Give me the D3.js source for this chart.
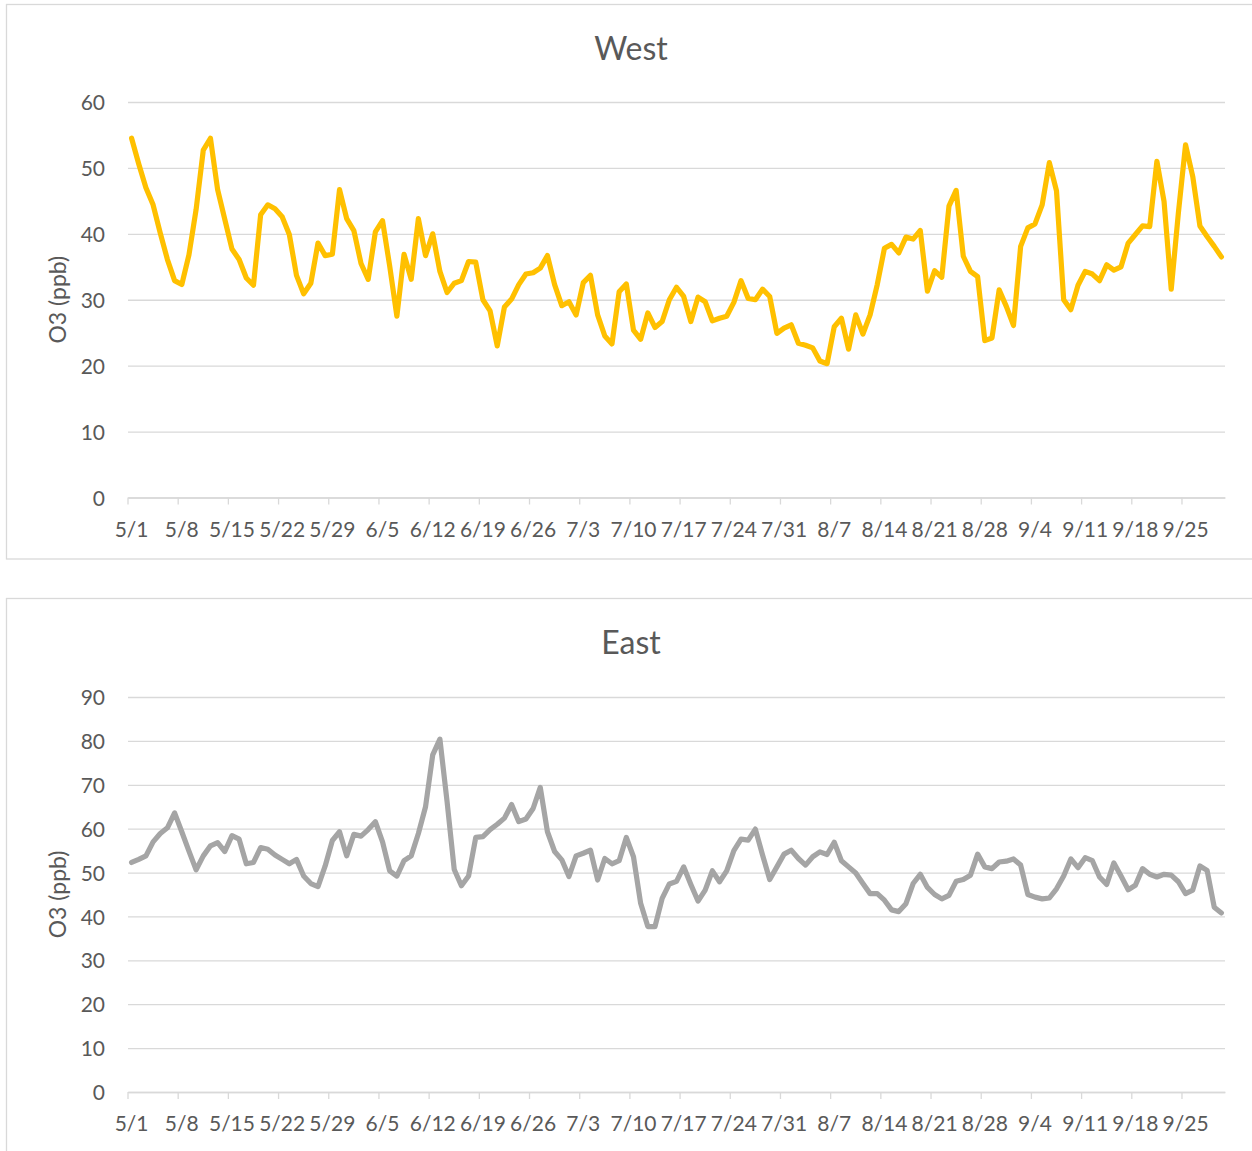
<!DOCTYPE html>
<html>
<head>
<meta charset="utf-8">
<script src="https://cdn.jsdelivr.net/npm/d3@7"></script>
<style>
  html, body { margin: 0; padding: 0; background: #ffffff; }
  svg { display: block; }
  text { font-family: Lato, "Open Sans", sans-serif; fill: #595959; }
</style>
</head>
<body>
<svg id="chart" width="1252" height="1151"></svg>
<script>
// ---------- DATA ----------
const dates = [
  "5/1","5/2","5/3","5/4","5/5","5/6","5/7","5/8","5/9","5/10","5/11","5/12","5/13","5/14","5/15","5/16",
  "5/17","5/18","5/19","5/20","5/21","5/22","5/23","5/24","5/25","5/26","5/27","5/28","5/29","5/30","5/31",
  "6/1","6/2","6/3","6/4","6/5","6/6","6/7","6/8","6/9","6/10","6/11","6/12","6/13","6/14","6/15",
  "6/16","6/17","6/18","6/19","6/20","6/21","6/22","6/23","6/24","6/25","6/26","6/27","6/28","6/29","6/30",
  "7/1","7/2","7/3","7/4","7/5","7/6","7/7","7/8","7/9","7/10","7/11","7/12","7/13","7/14","7/15","7/16",
  "7/17","7/18","7/19","7/20","7/21","7/22","7/23","7/24","7/25","7/26","7/27","7/28","7/29","7/30","7/31",
  "8/1","8/2","8/3","8/4","8/5","8/6","8/7","8/8","8/9","8/10","8/11","8/12","8/13","8/14","8/15","8/16",
  "8/17","8/18","8/19","8/20","8/21","8/22","8/23","8/24","8/25","8/26","8/27","8/28","8/29","8/30","8/31",
  "9/1","9/2","9/3","9/4","9/5","9/6","9/7","9/8","9/9","9/10","9/11","9/12","9/13","9/14","9/15",
  "9/16","9/17","9/18","9/19","9/20","9/21","9/22","9/23","9/24","9/25","9/26","9/27","9/28","9/29","9/30"
];

const tickLabels = ["5/1","5/8","5/15","5/22","5/29","6/5","6/12","6/19","6/26","7/3","7/10",
  "7/17","7/24","7/31","8/7","8/14","8/21","8/28","9/4","9/11","9/18","9/25"];

const westValues = [
  54.5,50.6,47.0,44.4,40.1,36.1,32.9,32.3,36.8,43.7,52.7,54.5,46.7,42.2,37.7,36.1,33.3,32.2,42.9,44.4,
  43.8,42.6,39.9,33.7,30.9,32.5,38.6,36.7,36.9,46.7,42.3,40.5,35.5,33.1,40.3,42.0,35.1,27.5,36.9,33.1,
  42.3,36.7,40.0,34.3,31.1,32.5,32.9,35.8,35.7,30.0,28.3,23.0,28.9,30.1,32.3,33.9,34.1,34.8,36.7,32.3,
  29.1,29.7,27.7,32.6,33.7,27.7,24.5,23.3,31.2,32.4,25.4,24.0,28.0,25.8,26.7,30.0,31.9,30.5,26.7,30.4,
  29.7,26.8,27.2,27.5,29.6,32.9,30.2,30.0,31.6,30.5,24.9,25.7,26.2,23.4,23.1,22.7,20.7,20.3,25.9,27.2,
  22.5,27.7,24.8,27.7,32.3,37.8,38.4,37.1,39.5,39.2,40.5,31.3,34.4,33.4,44.2,46.6,36.6,34.3,33.5,23.8,
  24.2,31.5,29.0,26.1,38.1,40.9,41.5,44.4,50.8,46.5,30.0,28.5,32.2,34.3,33.9,32.9,35.3,34.5,35.0,38.6,
  39.9,41.2,41.1,51.0,44.9,31.6,43.2,53.5,48.7,41.2,39.6,38.1,36.5
];

const eastValues = [
  52.3,53.0,53.8,57.0,58.9,60.2,63.6,59.3,54.9,50.6,53.8,56.1,56.8,54.8,58.4,57.6,52.0,52.3,55.7,55.3,
  54.0,53.0,52.0,53.0,49.2,47.5,46.8,51.5,57.3,59.3,53.8,58.7,58.3,59.8,61.6,57.0,50.4,49.2,52.7,53.8,
  58.9,65.0,76.8,80.4,66.2,50.7,47.0,49.2,58.0,58.2,59.8,61.0,62.4,65.5,61.6,62.2,64.6,69.4,59.3,54.8,
  52.9,49.1,53.8,54.4,55.1,48.3,53.2,52.0,52.7,58.0,53.6,43.0,37.7,37.7,44.1,47.4,48.0,51.3,47.3,43.5,
  46.0,50.4,47.9,50.4,55.0,57.6,57.4,59.9,54.0,48.4,51.3,54.2,55.1,53.2,51.7,53.6,54.7,54.1,56.9,52.7,
  51.3,49.9,47.5,45.2,45.2,43.7,41.5,41.1,42.9,47.5,49.6,46.6,45.0,44.0,44.8,48.0,48.4,49.4,54.2,51.3,
  50.9,52.4,52.6,53.1,51.7,45.0,44.4,44.0,44.2,46.3,49.2,53.1,51.1,53.4,52.7,49.0,47.3,52.2,49.2,46.1,
  47.1,50.9,49.6,49.0,49.6,49.4,47.9,45.2,46.0,51.5,50.5,42.1,40.8
];

const westTicks = [0,10,20,30,40,50,60];
const eastTicks = [0,10,20,30,40,50,60,70,80,90];

// ---------- DRAW ----------
const svg = d3.select("#chart");

function panel(cfg) {
  const g = svg.append("g");
  // frame
  g.append("rect")
    .attr("x", 6.5).attr("y", cfg.frameTop + 0.5)
    .attr("width", 1262).attr("height", cfg.frameH)
    .attr("fill", "#fff").attr("stroke", "#D9D9D9").attr("stroke-width", 1.3);

  const x = d3.scaleBand().domain(dates).range([128, 1225]).paddingInner(0).paddingOuter(0);
  const bw = x.bandwidth();
  const y = d3.scaleLinear().domain([0, cfg.max]).range([cfg.bottom, cfg.top]);

  // y gridlines + labels
  const ya = g.append("g").attr("transform", "translate(128,0)")
    .call(d3.axisLeft(y).tickValues(cfg.ticks).tickSize(-(1225 - 128)).tickPadding(23).tickFormat(d3.format("d")));
  ya.select(".domain").remove();
  ya.selectAll(".tick line").attr("stroke", "#D9D9D9").attr("stroke-width", 1.3);
  ya.selectAll(".tick text").attr("font-size", 21).attr("font-family", "Lato").attr("fill", "#595959").attr("dy", "0.36em");

  // x axis
  const xa = g.append("g").attr("transform", `translate(0,${cfg.bottom})`)
    .call(d3.axisBottom(x).tickValues(tickLabels).tickSize(7).tickSizeOuter(0));
  xa.select(".domain").attr("stroke", "#D9D9D9").attr("stroke-width", 1.3);
  xa.selectAll(".tick line").attr("stroke", "#D9D9D9").attr("stroke-width", 1.3)
    .attr("transform", `translate(${-bw / 2},0)`);
  xa.selectAll(".tick text").attr("font-size", 21).attr("font-family", "Lato").attr("fill", "#595959")
    .attr("y", 39).attr("dy", 0);

  // line
  const line = d3.line()
    .x((d, i) => x(dates[i]) + bw / 2)
    .y(d => y(d));
  g.append("path").datum(cfg.values)
    .attr("d", line)
    .attr("fill", "none")
    .attr("stroke", cfg.color)
    .attr("stroke-width", 5.2)
    .attr("stroke-linejoin", "round")
    .attr("stroke-linecap", "round");

  // title
  g.append("text").attr("x", 631).attr("y", cfg.titleY)
    .attr("text-anchor", "middle").attr("font-size", 32).text(cfg.title);

  // y axis title
  const cy = (cfg.top + cfg.bottom) / 2;
  g.append("text")
    .attr("transform", `translate(66,${cy}) rotate(-90)`)
    .attr("text-anchor", "middle").attr("font-size", 23).text("O3 (ppb)");
}

panel({ title: "West", frameTop: 4, frameH: 554.5, top: 102, bottom: 497.5, max: 60,
        ticks: westTicks, values: westValues, color: "#FFC000", titleY: 60 });
panel({ title: "East", frameTop: 598, frameH: 570, top: 697, bottom: 1092, max: 90,
        ticks: eastTicks, values: eastValues, color: "#A5A5A5", titleY: 654 });
</script>
</body>
</html>
